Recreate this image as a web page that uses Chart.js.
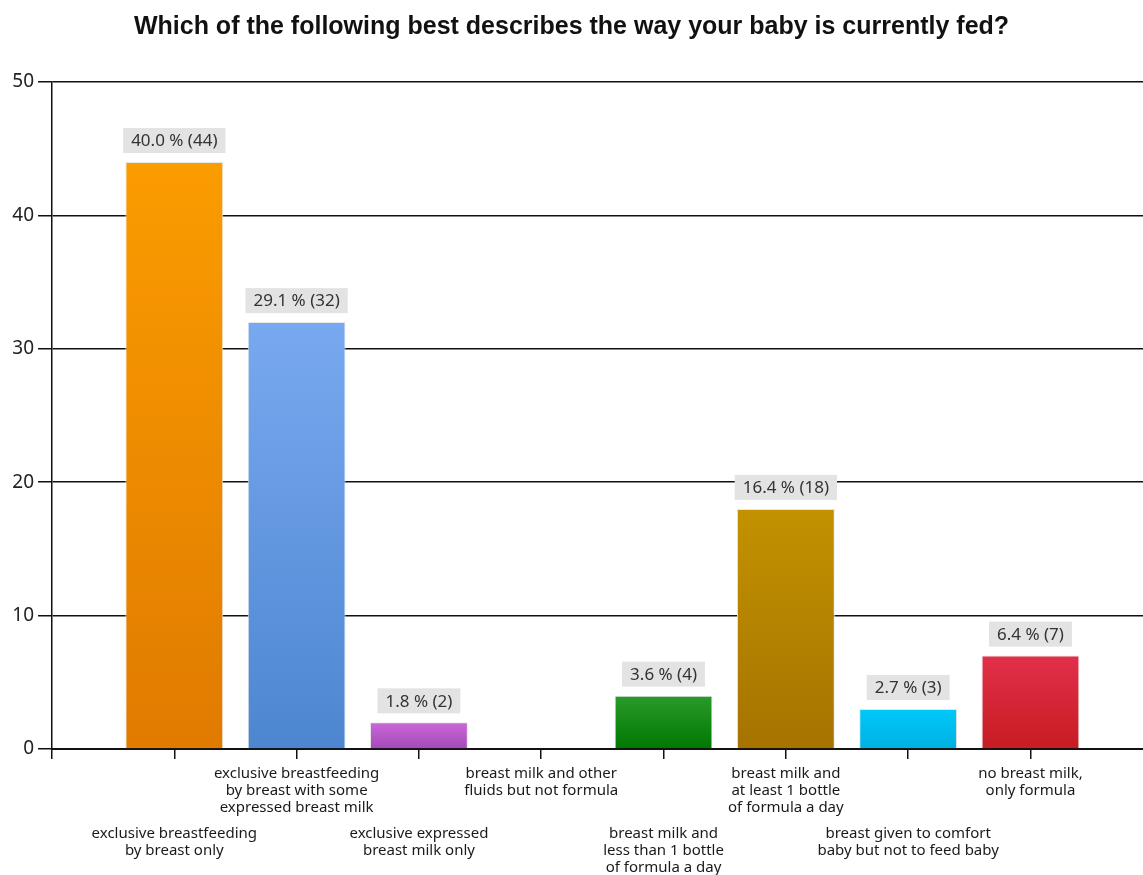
<!DOCTYPE html>
<html>
<head>
<meta charset="utf-8">
<script src="https://cdn.jsdelivr.net/npm/chart.js@4"></script>
<style>
  html, body { margin: 0; padding: 0; background: #fff; }
  #wrap { width: 1143px; height: 875px; }
</style>
</head>
<body>
<div id="wrap"><canvas id="feedChart" width="1143" height="875"></canvas></div>
<script>
const categories = [
    ['exclusive breastfeeding', 'by breast only'],
    ['exclusive breastfeeding', 'by breast with some', 'expressed breast milk'],
    ['exclusive expressed', 'breast milk only'],
    ['breast milk and other', 'fluids but not formula'],
    ['breast milk and', 'less than 1 bottle', 'of formula a day'],
    ['breast milk and', 'at least 1 bottle', 'of formula a day'],
    ['breast given to comfort', 'baby but not to feed baby'],
    ['no breast milk,', 'only formula']
];
const counts = [44, 32, 2, 0, 4, 18, 3, 7];
const percents = [40.0, 29.1, 1.8, 0.0, 3.6, 16.4, 2.7, 6.4];
const yTicks = [0, 10, 20, 30, 40, 50];

// top / bottom colour of each bar's gradient
const barTop = ['#fb9c00', '#78a9f0', '#cb68d8', '#2a9a2a', '#2a9a2a', '#c29200', '#00c8fa', '#e2304a'];
const barBottom = ['#e07b00', '#4d86d0', '#a34ab8', '#007800', '#007800', '#a67300', '#00b0e2', '#c61c22'];

function barGradient(context) {
    const chart = context.chart;
    if (!chart.chartArea || context.type !== 'data') return barTop[context.dataIndex];
    const y = chart.scales.y;
    const top = y.getPixelForValue(counts[context.dataIndex]);
    const bottom = y.getPixelForValue(0);
    const g = chart.ctx.createLinearGradient(0, top, 0, bottom);
    g.addColorStop(0, barTop[context.dataIndex]);
    g.addColorStop(1, barBottom[context.dataIndex]);
    return g;
}

const valueLabels = {
    id: 'valueLabels',
    afterDatasetsDraw(chart) {
        const ctx = chart.ctx;
        const meta = chart.getDatasetMeta(0);
        ctx.save();
        ctx.font = '17px "Noto Sans"';
        ctx.textAlign = 'center';
        ctx.textBaseline = 'middle';
        meta.data.forEach((bar, i) => {
            if (!counts[i]) return;
            const text = percents[i].toFixed(1) + ' % (' + counts[i] + ')';
            const w = ctx.measureText(text).width + 16;
            const h = 25;
            const bottom = bar.y - 9;
            ctx.fillStyle = '#e3e3e3';
            ctx.fillRect(bar.x - w / 2, bottom - h, w, h);
            ctx.fillStyle = '#333';
            ctx.fillText(text, bar.x, bottom - h / 2 + 1);
        });
        ctx.restore();
    }
};

function categoryTicks(scale) {
    scale.ticks = [0, 1, 2, 3, 4, 5, 6, 7, 8].map(v => ({ value: v }));
}

const xFont = { family: '"Noto Sans"', size: 15, lineHeight: '17px' };

new Chart(document.getElementById('feedChart'), {
    type: 'bar',
    data: {
        datasets: [{
            data: counts.map((c, i) => ({ x: i + 1, y: c })),
            backgroundColor: barGradient,
            borderColor: '#e6e6e6',
            borderWidth: 1,
            barPercentage: 1,
            categoryPercentage: 0.8
        }]
    },
    options: {
        responsive: false,
        animation: false,
        layout: { padding: 0 },
        plugins: {
            legend: { display: false },
            tooltip: { enabled: false },
            title: {
                display: true,
                text: 'Which of the following best describes the way your baby is currently fed?',
                color: '#111',
                font: { family: '"Liberation Sans", Arial', size: 25, weight: 'bold', lineHeight: 1.2 },
                padding: { top: 12, bottom: 40 }
            }
        },
        scales: {
            x: {
                type: 'linear',
                offset: false,
                min: 0,
                max: 8.92,
                weight: 0,
                afterBuildTicks: categoryTicks,
                afterFit: s => { s.height = 68; },
                grid: { display: true, offset: false, drawOnChartArea: false, color: '#111', lineWidth: 1.5, tickLength: 10 },
                border: { display: true, color: '#111', width: 2 },
                ticks: {
                    autoSkip: false,
                    maxRotation: 0,
                    padding: 6,
                    color: '#1a1a1a',
                    font: xFont,
                    callback: v => (v > 0 && v % 2 === 0) ? categories[v - 1] : ''
                }
            },
            x2: {
                type: 'linear',
                position: 'bottom',
                offset: false,
                min: 0,
                max: 8.92,
                weight: 1,
                afterBuildTicks: categoryTicks,
                afterFit: s => { s.height = 58; },
                grid: { display: false, offset: false },
                border: { display: false },
                ticks: {
                    autoSkip: false,
                    maxRotation: 0,
                    padding: 0,
                    color: '#1a1a1a',
                    font: xFont,
                    callback: v => (v % 2 === 1) ? categories[v - 1] : ''
                }
            },
            y: {
                min: 0,
                max: 50,
                afterBuildTicks: s => { s.ticks = yTicks.map(v => ({ value: v })); },
                afterFit: s => { s.width = 52; },
                grid: { color: '#111', lineWidth: 1.5, tickLength: 14 },
                border: { display: true, color: '#111', width: 1.5 },
                ticks: {
                    padding: 4,
                    color: '#222',
                    font: { family: '"Noto Sans"', size: 19 }
                }
            }
        }
    },
    plugins: [valueLabels]
});
</script>
</body>
</html>
